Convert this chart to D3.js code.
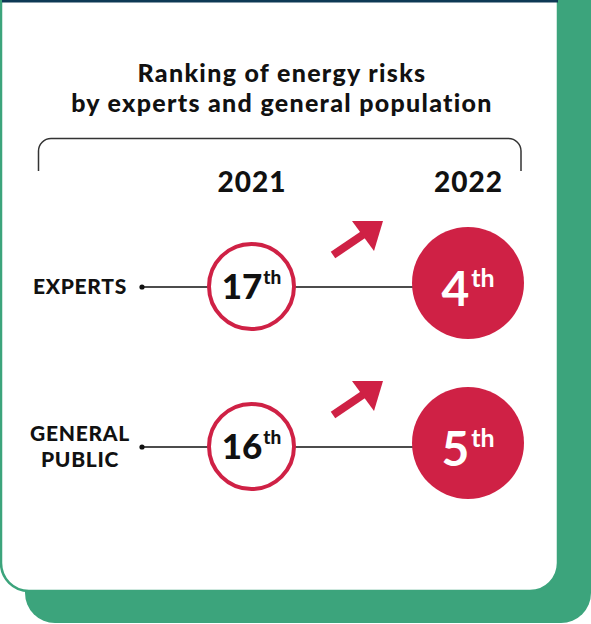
<!DOCTYPE html>
<html>
<head>
<meta charset="utf-8">
<script src="https://cdn.jsdelivr.net/npm/d3@7"></script>
<style>
  html, body { margin: 0; padding: 0; background: #ffffff; }
  svg { display: block; }
  text { font-family: Lato, "Source Sans Pro", "Noto Sans", sans-serif; }
</style>
</head>
<body>
<svg id="chart" width="591" height="624"></svg>
<script>
// ---- data ----
const titleLines = ["Ranking of energy risks", "by experts and general population"];
const years = ["2021", "2022"];
const groups = ["EXPERTS", "GENERAL PUBLIC"];
const groupLabelLines = [["EXPERTS"], ["GENERAL", "PUBLIC"]];
const rank2021 = [17, 16];
const rank2022 = [4, 5];
const ordinalSuffix = ["th", "th"];

// ---- styles ----
const RED = "#cf2145";
const GREEN = "#3ca47c";
const NAVY = "#0e3955";

const svg = d3.select("#chart");

function roundedBottom(x, y, w, h, r) {
  const p = d3.path();
  p.moveTo(x, y);
  p.lineTo(x + w, y);
  p.lineTo(x + w, y + h - r);
  p.arcTo(x + w, y + h, x + w - r, y + h, r);
  p.lineTo(x + r, y + h);
  p.arcTo(x, y + h, x, y + h - r, r);
  p.closePath();
  return p.toString();
}

// background card + shadow
svg.append("path")
  .attr("d", roundedBottom(25, -10, 591 - 25, 633, 30))
  .attr("fill", GREEN);
svg.append("path")
  .attr("d", roundedBottom(1, -10, 557, 601, 28))
  .attr("fill", "#ffffff")
  .attr("stroke", GREEN)
  .attr("stroke-width", 2.5);
svg.append("rect").attr("x", 2).attr("y", 0).attr("width", 556).attr("height", 2.5).attr("fill", NAVY);

// title
svg.append("g").selectAll("text").data(titleLines).join("text")
  .attr("x", 282)
  .attr("y", (d, i) => 82 + i * 30)
  .attr("text-anchor", "middle")
  .attr("font-size", 25)
  .attr("font-weight", 900)
  .attr("letter-spacing", 1.3)
  .attr("fill", "#111")
  .text(d => d);

// bracket
const br = d3.path();
br.moveTo(38.5, 171);
br.lineTo(38.5, 151);
br.arcTo(38.5, 138.5, 51, 138.5, 12.5);
br.lineTo(508.5, 138.5);
br.arcTo(521, 138.5, 521, 151, 12.5);
br.lineTo(521, 171);
svg.append("path").attr("d", br.toString()).attr("fill", "none").attr("stroke", "#333").attr("stroke-width", 1.5);

// scales
const x = d3.scalePoint().domain(years).range([251.5, 468]);
const y = d3.scalePoint().domain(groups).range([287, 447]);

// year headers
svg.append("g").selectAll("text").data(years).join("text")
  .attr("x", d => x(d) + 0.5)
  .attr("y", 192)
  .attr("text-anchor", "middle")
  .attr("font-size", 28)
  .attr("font-weight", 900)
  .attr("letter-spacing", 1)
  .attr("fill", "#111")
  .text(d => d);

const rows = groups.map((g, i) => ({ g, i, r21: rank2021[i], r22: rank2022[i], suf: ordinalSuffix[i], lines: groupLabelLines[i] }));

const row = svg.append("g").selectAll("g").data(rows).join("g");

// connector line + dot
row.append("line")
  .attr("x1", 142).attr("x2", x("2022"))
  .attr("y1", d => y(d.g)).attr("y2", d => y(d.g))
  .attr("stroke", "#111").attr("stroke-width", 1.5);
row.append("circle")
  .attr("cx", 142).attr("cy", d => y(d.g)).attr("r", 2.6).attr("fill", "#111");

// group labels
row.append("text")
  .attr("text-anchor", "middle")
  .attr("font-size", 21)
  .attr("font-weight", 900)
  .attr("letter-spacing", 0.7)
  .attr("fill", "#111")
  .each(function (d) {
    const n = d.lines.length;
    d3.select(this).selectAll("tspan").data(d.lines).join("tspan")
      .attr("x", 80)
      .attr("y", (l, k) => y(d.g) + 7 - (n - 1) * 13 + k * 26)
      .text(l => l);
  });

// 2021 outlined circles
row.append("circle")
  .attr("cx", x("2021"))
  .attr("cy", d => y(d.g) - 0.5)
  .attr("r", 42.5)
  .attr("fill", "#fff")
  .attr("stroke", RED)
  .attr("stroke-width", 4);

row.append("text")
  .attr("x", x("2021"))
  .attr("y", d => y(d.g) + 12)
  .attr("text-anchor", "middle")
  .attr("fill", "#111")
  .attr("font-weight", 900)
  .each(function (d) {
    const t = d3.select(this);
    t.append("tspan").attr("font-size", 35).text(d.r21);
    t.append("tspan").attr("font-size", 19).attr("dy", -15).attr("dx", 1).text(d.suf);
  });

// 2022 filled circles
row.append("circle")
  .attr("cx", x("2022"))
  .attr("cy", d => y(d.g) - 4)
  .attr("r", 56)
  .attr("fill", RED);

row.append("text")
  .attr("x", x("2022"))
  .attr("y", d => y(d.g) + 19)
  .attr("text-anchor", "middle")
  .attr("fill", "#fff")
  .attr("font-weight", 700)
  .each(function (d) {
    const t = d3.select(this);
    t.append("tspan").attr("font-size", 48).text(d.r22);
    t.append("tspan").attr("font-size", 25).attr("font-weight", 700).attr("dy", -19).attr("dx", 2).text(d.suf);
  });

// arrows
const arrow = row.append("g")
  .attr("transform", d => `translate(0,${y(d.g) - 287})`);
arrow.append("line")
  .attr("x1", 333).attr("y1", 255).attr("x2", 367).attr("y2", 232)
  .attr("stroke", RED).attr("stroke-width", 8);
arrow.append("path")
  .attr("d", d3.line()([[352, 221], [383, 221], [374, 251]]) + "Z")
  .attr("fill", RED);
</script>
</body>
</html>
